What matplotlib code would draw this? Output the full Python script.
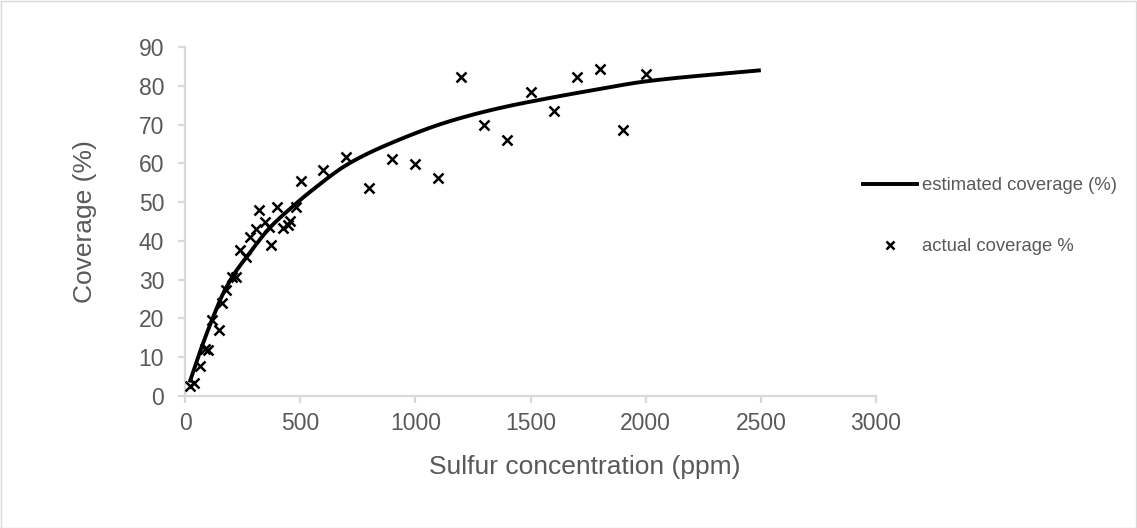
import numpy as np
import matplotlib
matplotlib.use("Agg")
import matplotlib.pyplot as plt
from matplotlib.lines import Line2D
from matplotlib.patches import Rectangle

plt.rcParams['font.family'] = ['Liberation Sans', 'DejaVu Sans']

# actual coverage (%) measured points
actual_x = [22, 40, 65, 85, 100, 118, 147, 159, 180, 202, 223, 238, 267, 281,
            307, 320, 346, 365, 375, 399, 425, 447, 458, 480, 505,
            600, 700, 800, 900, 1000, 1100, 1200, 1300, 1400, 1500, 1600,
            1700, 1800, 1900, 2000]
actual_y = [2.6, 3.3, 7.8, 12.2, 11.8, 19.6, 17.0, 23.9, 27.4, 30.6, 30.6, 37.7, 35.8, 41.1,
            43.0, 48.0, 45.0, 43.7, 39.0, 48.7, 43.3, 44.1, 45.2, 48.7, 55.5,
            58.3, 61.6, 53.6, 61.1, 59.7, 56.3, 82.2, 69.9, 65.9, 78.3, 73.4,
            82.2, 84.4, 68.6, 83.1]

# estimated coverage (%) curve
est_x = [20, 68, 123, 166, 216, 267, 367, 468, 540, 713, 930, 1146, 1362, 1578, 1794, 1996, 2500]
est_y = [3.5, 11.9, 20.5, 26.5, 31.7, 35.8, 43.3, 48.9, 52.5, 60.0, 66.1, 70.8, 74.2, 76.8, 79.1, 81.1, 84.0]

x_ticks = [0, 500, 1000, 1500, 2000, 2500, 3000]
y_ticks = [0, 10, 20, 30, 40, 50, 60, 70, 80, 90]


def smooth_line(xs, ys, n=400):
    """Monotone cubic (Fritsch-Carlson) rendering of a line through the given points."""
    xs = np.asarray(xs, float)
    ys = np.asarray(ys, float)
    h = np.diff(xs)
    d = np.diff(ys) / h
    m = np.zeros_like(xs)
    m[0], m[-1] = d[0], d[-1]
    for i in range(1, len(xs) - 1):
        if d[i - 1] * d[i] <= 0:
            m[i] = 0
        else:
            w1 = 2 * h[i] + h[i - 1]
            w2 = h[i] + 2 * h[i - 1]
            m[i] = (w1 + w2) / (w1 / d[i - 1] + w2 / d[i])
    xx = np.linspace(xs[0], xs[-1], n)
    idx = np.clip(np.searchsorted(xs, xx) - 1, 0, len(xs) - 2)
    t = (xx - xs[idx]) / h[idx]
    h00 = 2 * t**3 - 3 * t**2 + 1
    h10 = t**3 - 2 * t**2 + t
    h01 = -2 * t**3 + 3 * t**2
    h11 = t**3 - t**2
    yy = h00 * ys[idx] + h10 * h[idx] * m[idx] + h01 * ys[idx + 1] + h11 * h[idx] * m[idx + 1]
    return xx, yy


W, H = 1137, 528
fig = plt.figure(figsize=(W / 100, H / 100), dpi=100)
ax = fig.add_axes([185 / W, 1 - 396 / H, (876 - 185) / W, (396 - 47) / H])

gray_axis = '#d9d9d9'
gray_text = '#595959'

sx, sy = smooth_line(est_x, est_y)
ax.plot(sx, sy, color='black', lw=2.8, solid_capstyle='butt', zorder=3)
ax.plot(actual_x, actual_y, linestyle='none', marker='x', color='black',
        markersize=7.5, markeredgewidth=1.8, zorder=4)

ax.set_xlim(0, 3000)
ax.set_ylim(0, 90)
ax.set_xticks(x_ticks)
ax.set_yticks(y_ticks)
ax.set_xticklabels([str(v) for v in x_ticks])
ax.set_yticklabels([str(v) for v in y_ticks])

for side in ['top', 'right']:
    ax.spines[side].set_visible(False)
for side in ['left', 'bottom']:
    ax.spines[side].set_color(gray_axis)
    ax.spines[side].set_linewidth(1.6)

ax.tick_params(axis='both', direction='out', length=5, width=1.6, color=gray_axis,
               labelcolor=gray_text, labelsize=16.5)
ax.tick_params(axis='x', pad=6.5)
ax.tick_params(axis='y', pad=10)

fig.text(585 / W, 1 - 467 / H, 'Sulfur concentration (ppm)', fontsize=19,
         color=gray_text, ha='center', va='center')
fig.text(85 / W, 1 - 222 / H, 'Coverage (%)', fontsize=19, color=gray_text,
         ha='center', va='center', rotation=90)

handles = [Line2D([], [], color='black', lw=2.8),
           Line2D([], [], linestyle='none', marker='x', color='black',
                  markersize=6, markeredgewidth=1.8)]
labels = ['estimated coverage (%)', 'actual coverage %']
leg = fig.legend(handles, labels, loc='upper left',
                 bbox_to_anchor=(863 / W, 1 - 177 / H), frameon=False,
                 fontsize=13.3, handlelength=2.92, handletextpad=0.27,
                 labelspacing=2.4, borderaxespad=0, borderpad=0)
for t in leg.get_texts():
    t.set_color(gray_text)

fig.patches.append(Rectangle((0.5 / W, 0.5 / H), 1 - 1.5 / W, 1 - 1.5 / H,
                             transform=fig.transFigure, fill=False,
                             edgecolor=gray_axis, lw=1.0))

fig.savefig('out.png', dpi=100)
